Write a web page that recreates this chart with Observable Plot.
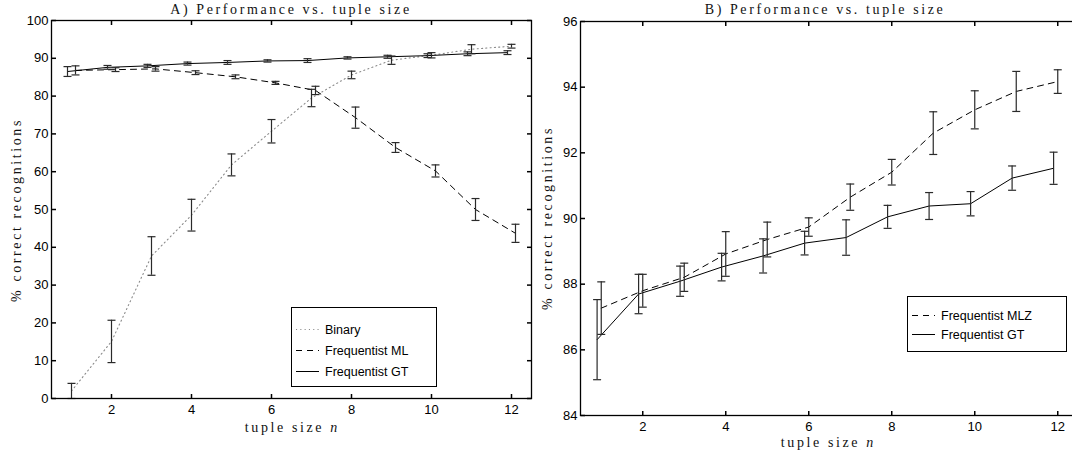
<!DOCTYPE html>
<html>
<head>
<meta charset="utf-8">
<script src="https://cdn.jsdelivr.net/npm/d3@7"></script>
<script src="https://cdn.jsdelivr.net/npm/@observablehq/plot@0.6"></script>
<style>
  html, body { margin: 0; padding: 0; background: #fff; }
  #wrap { position: relative; width: 1072px; height: 455px; overflow: hidden; background: #fff; }
  .abs { position: absolute; }
  .serif { font-family: "Liberation Serif", "DejaVu Serif", serif; font-size: 14px; letter-spacing: 2.6px; color: #111; white-space: nowrap; }
  .title { text-align: center; line-height: 16px; }
  .ylab { transform-origin: center center; text-align: center; line-height: 16px; }
  .legend { border: 1.2px solid #000; background: #fff; box-sizing: border-box; }
</style>
</head>
<body>
<div id="wrap"></div>
<script>
// ---------- data ----------
const n = [1, 2, 3, 4, 5, 6, 7, 8, 9, 10, 11, 12];

// Panel A
const binaryA    = [2.0, 15.1, 37.7, 48.5, 61.8, 70.7, 79.5, 85.6, 89.5, 90.8, 92.4, 93.2];
const binaryErrA = [2.0, 5.6, 5.1, 4.2, 2.9, 3.1, 2.3, 1.0, 1.1, 0.7, 1.2, 0.5];
const mlA        = [86.8, 87.0, 87.2, 86.2, 85.1, 83.5, 81.5, 74.3, 66.4, 60.2, 50.0, 43.7];
const mlErrA     = [1.2, 0.5, 0.6, 0.5, 0.5, 0.4, 1.1, 2.8, 1.3, 1.6, 2.9, 2.4];
const gtA        = [86.5, 87.6, 88.0, 88.6, 88.9, 89.3, 89.4, 90.1, 90.4, 90.7, 91.2, 91.5];
const gtErrA     = [1.3, 0.5, 0.4, 0.4, 0.5, 0.3, 0.5, 0.3, 0.4, 0.5, 0.5, 0.5];

// Panel B
const mlzB    = [87.27, 87.80, 88.21, 88.92, 89.36, 89.74, 90.65, 91.41, 92.60, 93.31, 93.87, 94.17];
const mlzErrB = [0.80, 0.50, 0.43, 0.68, 0.53, 0.28, 0.40, 0.39, 0.65, 0.58, 0.61, 0.36];
const gtB     = [86.31, 87.70, 88.09, 88.52, 88.86, 89.25, 89.42, 90.05, 90.38, 90.45, 91.23, 91.53];
const gtErrB  = [1.22, 0.60, 0.46, 0.42, 0.52, 0.36, 0.54, 0.35, 0.41, 0.37, 0.37, 0.49];

// x offsets of each series (series are drawn slightly apart)
const offsetsA = {"Binary": 0, "Frequentist ML": 0.1, "Frequentist GT": -0.1};
const offsetsB = {"Frequentist MLZ": 0, "Frequentist GT": -0.1};

// tick labels
const xTicks  = [2, 4, 6, 8, 10, 12];
const yTicksA = [0, 10, 20, 30, 40, 50, 60, 70, 80, 90, 100];
const yTicksB = [84, 86, 88, 90, 92, 94, 96];

const titleA = "A) Performance vs. tuple size";
const titleB = "B) Performance vs. tuple size";
const yLabel = "% correct recognitions";

// ---------- helpers ----------
const styles = {
  "Binary":          {stroke: "#8a8a8a", dash: "1.1,3.2", width: 1.1},
  "Frequentist ML":  {stroke: "#000", dash: "6,5", width: 1},
  "Frequentist MLZ": {stroke: "#000", dash: "6,5", width: 1},
  "Frequentist GT":  {stroke: "#000", dash: null, width: 1}
};

function rows(series, vals, errs, off) {
  return n.map((k, i) => ({series, x: k + off, y: vals[i], lo: vals[i] - errs[i], hi: vals[i] + errs[i]}));
}

const cap = {draw(ctx) { ctx.moveTo(-4, 0); ctx.lineTo(4, 0); }};
const tickUp = {draw(ctx) { ctx.moveTo(0, 0); ctx.lineTo(0, -4.5); }};
const tickDown = {draw(ctx) { ctx.moveTo(0, 0); ctx.lineTo(0, 4.5); }};
const tickRight = {draw(ctx) { ctx.moveTo(0, 0); ctx.lineTo(4.5, 0); }};
const tickLeft = {draw(ctx) { ctx.moveTo(0, 0); ctx.lineTo(-4.5, 0); }};

function panel({data, order, xDomain, yDomain, yTicks, width, height, ml, mr, mt, mb}) {
  const marks = [];
  for (const s of order) {
    const d = data.filter(r => r.series === s);
    const st = styles[s];
    marks.push(Plot.line(d, {x: "x", y: "y", stroke: st.stroke, strokeWidth: st.width, strokeDasharray: st.dash}));
  }
  for (const s of order) {
    const d = data.filter(r => r.series === s);
    marks.push(Plot.ruleX(d, {x: "x", y1: "lo", y2: "hi", stroke: "#2a2a2a", strokeWidth: 1.2}));
    marks.push(Plot.dot(d, {x: "x", y: "lo", symbol: cap, stroke: "#2a2a2a", strokeWidth: 1.2, fill: "none"}));
    marks.push(Plot.dot(d, {x: "x", y: "hi", symbol: cap, stroke: "#2a2a2a", strokeWidth: 1.2, fill: "none"}));
  }
  // inward ticks on all four sides
  marks.push(Plot.dot(xTicks, {x: d => d, y: () => yDomain[0], symbol: tickUp, stroke: "#000", fill: "none"}));
  marks.push(Plot.dot(xTicks, {x: d => d, y: () => yDomain[1], symbol: tickDown, stroke: "#000", fill: "none"}));
  marks.push(Plot.dot(yTicks, {y: d => d, x: () => xDomain[0], symbol: tickRight, stroke: "#000", fill: "none"}));
  marks.push(Plot.dot(yTicks, {y: d => d, x: () => xDomain[1], symbol: tickLeft, stroke: "#000", fill: "none"}));
  marks.push(Plot.axisX(xTicks, {anchor: "bottom", tickSize: 0, tickPadding: 6, label: null}));
  marks.push(Plot.axisY(yTicks, {anchor: "left", tickSize: 0, tickPadding: 3, label: null}));
  marks.push(Plot.frame({stroke: "#000", strokeWidth: 1.3}));
  return Plot.plot({
    width, height, marginLeft: ml, marginRight: mr, marginTop: mt, marginBottom: mb,
    x: {domain: xDomain}, y: {domain: yDomain},
    style: {fontFamily: "'Liberation Sans', Arial, sans-serif", fontSize: "13px", color: "#000", background: "transparent", overflow: "visible"},
    marks
  });
}

const wrap = document.getElementById("wrap");
function place(el, left, top) {
  el.style.position = "absolute"; el.style.left = left + "px"; el.style.top = top + "px";
  wrap.appendChild(el);
}

// ---------- panel A ----------
const dataA = [
  ...rows("Binary", binaryA, binaryErrA, offsetsA["Binary"]),
  ...rows("Frequentist ML", mlA, mlErrA, offsetsA["Frequentist ML"]),
  ...rows("Frequentist GT", gtA, gtErrA, offsetsA["Frequentist GT"])
];
const svgA = panel({data: dataA, order: ["Binary", "Frequentist ML", "Frequentist GT"],
  xDomain: [0.5, 12.5], yDomain: [0, 100], yTicks: yTicksA,
  width: 545, height: 441, ml: 51, mr: 14, mt: 6, mb: 57});
place(svgA, 0, 14);

// ---------- panel B ----------
const dataB = [
  ...rows("Frequentist MLZ", mlzB, mlzErrB, offsetsB["Frequentist MLZ"]),
  ...rows("Frequentist GT", gtB, gtErrB, offsetsB["Frequentist GT"])
];
const svgB = panel({data: dataB, order: ["Frequentist MLZ", "Frequentist GT"],
  xDomain: [0.5, 12.5], yDomain: [84, 96], yTicks: yTicksB,
  width: 560, height: 441, ml: 50, mr: 12, mt: 7, mb: 40});
place(svgB, 530, 14);

// ---------- texts ----------
function textDiv(cls, html, left, top, width) {
  const d = document.createElement("div");
  d.className = "abs serif " + cls;
  d.innerHTML = html;
  d.style.left = left + "px"; d.style.top = top + "px";
  if (width != null) d.style.width = width + "px";
  wrap.appendChild(d);
  return d;
}
textDiv("title", titleA, 51, 2, 480);
textDiv("title", titleB, 576, 2, 498);
textDiv("title", 'tuple size <i style="letter-spacing:0">n</i>', 51, 420, 480);
textDiv("title", 'tuple size <i style="letter-spacing:0">n</i>', 578, 435, 498);
const yl1 = textDiv("ylab", yLabel, 17 - 150, 210 - 8, 300);
yl1.style.transform = "rotate(-90deg)";
const yl2 = textDiv("ylab", yLabel, 548 - 150, 218 - 8, 300);
yl2.style.transform = "rotate(-90deg)";

// ---------- legends ----------
function legend(items, left, top, w, h, rowGap, firstRow) {
  const ns = "http://www.w3.org/2000/svg";
  const box = document.createElement("div");
  box.className = "abs legend";
  box.style.left = left + "px"; box.style.top = top + "px";
  box.style.width = w + "px"; box.style.height = h + "px";
  const svg = document.createElementNS(ns, "svg");
  svg.setAttribute("width", w); svg.setAttribute("height", h);
  svg.style.position = "absolute"; svg.style.left = "-1px"; svg.style.top = "-1px";
  items.forEach((s, i) => {
    const y = firstRow + i * rowGap;
    const st = styles[s];
    const ln = document.createElementNS(ns, "line");
    ln.setAttribute("x1", 5); ln.setAttribute("x2", 28); ln.setAttribute("y1", y); ln.setAttribute("y2", y);
    ln.setAttribute("stroke", st.stroke); ln.setAttribute("stroke-width", st.width);
    if (st.dash) ln.setAttribute("stroke-dasharray", st.dash);
    svg.appendChild(ln);
    const t = document.createElementNS(ns, "text");
    t.setAttribute("x", 34); t.setAttribute("y", y); t.setAttribute("dy", "0.35em");
    t.setAttribute("font-family", "'Liberation Sans', Arial, sans-serif");
    t.setAttribute("font-size", "12.5px");
    t.textContent = s;
    svg.appendChild(t);
  });
  box.appendChild(svg);
  wrap.appendChild(box);
}
legend(["Binary", "Frequentist ML", "Frequentist GT"], 291, 307, 146, 80, 21, 22.5);
legend(["Frequentist MLZ", "Frequentist GT"], 907, 296, 160, 56, 19, 19.5);
</script>
</body>
</html>
